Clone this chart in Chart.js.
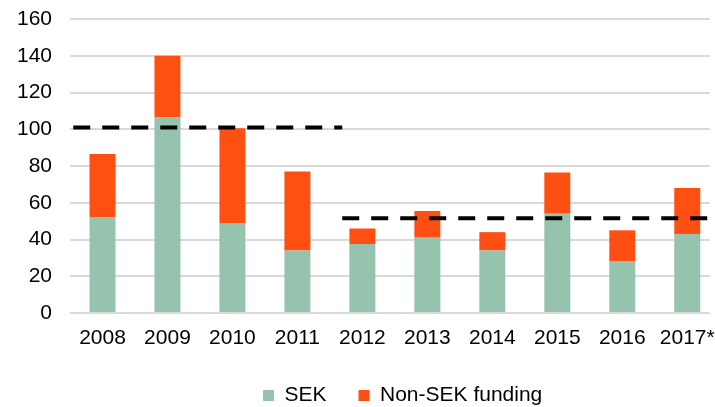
<!DOCTYPE html>
<html>
<head>
<meta charset="utf-8">
<script src="https://cdn.jsdelivr.net/npm/chart.js@4/dist/chart.umd.min.js"></script>
<style>
  html, body { margin: 0; padding: 0; background: #fff; }
  canvas { display: block; }
</style>
</head>
<body>
<canvas id="funding" width="715" height="407"></canvas>
<script>
// Annual funding volumes, split by currency
const years = ['2008', '2009', '2010', '2011', '2012', '2013', '2014', '2015', '2016', '2017*'];
const sekFunding = [52, 106.5, 49, 34, 37.5, 41, 34, 54, 28, 43];
const nonSekFunding = [34.5, 33.5, 51.5, 43, 8.5, 14.5, 10, 22.5, 17, 25];

// Average levels for the two periods (dashed reference lines)
const periodAverages = [101, 51.5];
// Period extents, expressed in year-index units on the x axis
const periodStart = [-0.45, 3.69];
const periodEnd = [3.69, 9.32];

const yTicks = [0, 20, 40, 60, 80, 100, 120, 140, 160];

const FONT = 'Arial, "Liberation Sans", sans-serif';
const SEK_COLOR = '#95C3AE';
const NON_SEK_COLOR = '#FF4F12';

const toPoints = (values) => values.map((v, i) => ({ x: i, y: v }));

const periodLines = periodAverages.map((level, k) => ({
  type: 'line',
  data: [{ x: periodStart[k], y: level }, { x: periodEnd[k], y: level }],
  borderColor: '#000',
  borderWidth: 4,
  borderDash: [17, 12],
  borderCapStyle: 'butt',
  pointRadius: 0,
  fill: false,
  order: 0
}));

// Places the legend row beneath the axis labels
const legendPlacement = {
  id: 'legendPlacement',
  afterLayout(chart) {
    const lg = chart.legend;
    if (!lg) return;
    const pad = lg.options.labels.padding;
    lg.left = 263 - pad;
    lg.top = 353;
    lg.bottom = lg.top + lg.height;
  }
};

new Chart(document.getElementById('funding'), {
  data: {
    datasets: [
      {
        type: 'bar',
        label: 'SEK',
        data: toPoints(sekFunding),
        backgroundColor: SEK_COLOR,
        borderWidth: 0,
        stack: 'funding',
        barPercentage: 0.4,
        categoryPercentage: 1,
        order: 1
      },
      {
        type: 'bar',
        label: 'Non-SEK funding',
        data: toPoints(nonSekFunding),
        backgroundColor: NON_SEK_COLOR,
        borderWidth: 0,
        stack: 'funding',
        barPercentage: 0.4,
        categoryPercentage: 1,
        order: 1
      },
      ...periodLines
    ]
  },
  options: {
    responsive: false,
    devicePixelRatio: 1,
    animation: false,
    layout: { padding: { left: 18, top: 19, right: 5, bottom: 0 } },
    scales: {
      x: {
        type: 'linear',
        min: -0.5,
        max: 9.35,
        offset: false,
        grid: { display: false, drawTicks: false },
        border: { display: false },
        afterBuildTicks: (scale) => { scale.ticks = years.map((_, i) => ({ value: i })); },
        afterFit: (scale) => {
          scale.height = 31;
          scale.paddingLeft = 0;
          scale.paddingRight = 0;
        },
        ticks: {
          autoSkip: false,
          maxRotation: 0,
          padding: 13,
          color: '#000',
          font: { family: FONT, size: 21 },
          callback: (value) => years[value] ?? ''
        }
      },
      y: {
        min: 0,
        max: 160,
        grid: { color: '#d9d9d9', lineWidth: 2, drawTicks: false },
        border: { display: false },
        afterBuildTicks: (scale) => { scale.ticks = yTicks.map((v) => ({ value: v })); },
        afterFit: (scale) => {
          scale.width = 52;
          scale.paddingTop = 0;
          scale.paddingBottom = 0;
        },
        ticks: {
          padding: 18,
          color: '#000',
          font: { family: FONT, size: 21 }
        }
      }
    },
    plugins: {
      tooltip: { enabled: false },
      legend: {
        position: 'bottom',
        align: 'start',
        labels: {
          boxWidth: 11,
          boxHeight: 11,
          padding: 32,
          color: '#000',
          font: { family: FONT, size: 21 },
          filter: (item, data) => data.datasets[item.datasetIndex].type === 'bar'
        }
      }
    }
  },
  plugins: [legendPlacement]
});
</script>
</body>
</html>
